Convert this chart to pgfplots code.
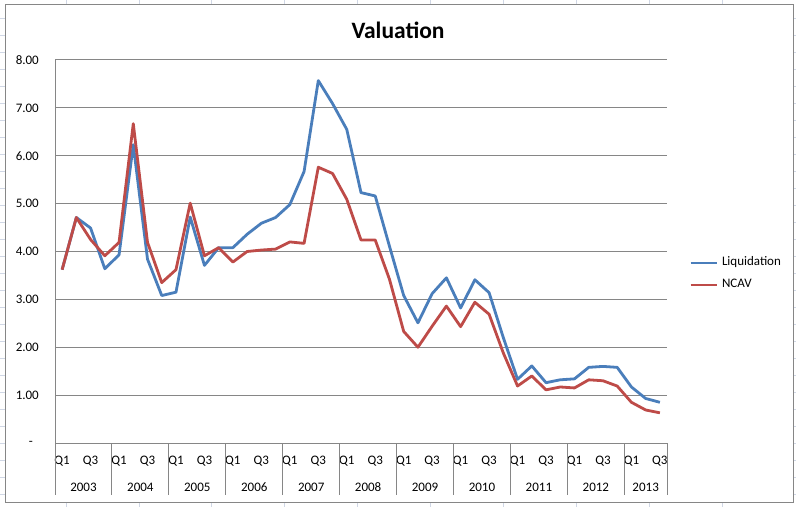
\documentclass[border=0pt]{standalone}
\usepackage{fontspec}
\setmainfont{Carlito}
\usepackage{pgfplots}
\pgfplotsset{compat=1.18}

\definecolor{liq}{HTML}{4A7EBB}
\definecolor{ncav}{HTML}{BE4B48}
\definecolor{gridgray}{HTML}{868686}
\definecolor{sheet}{HTML}{D0D7E5}

\pgfplotstableread{
x    liq   ncav
0.5  3.62  3.62
1.5  4.71  4.71
2.5  4.49  4.25
3.5  3.64  3.91
4.5  3.93  4.19
5.5  6.23  6.67
6.5  3.84  4.19
7.5  3.08  3.35
8.5  3.15  3.62
9.5  4.72  5.01
10.5 3.71  3.91
11.5 4.08  4.08
12.5 4.08  3.78
13.5 4.36  4.00
14.5 4.59  4.03
15.5 4.71  4.05
16.5 4.98  4.20
17.5 5.67  4.17
18.5 7.57  5.76
19.5 7.09  5.63
20.5 6.55  5.09
21.5 5.23  4.24
22.5 5.16  4.24
23.5 4.11  3.42
24.5 3.08  2.33
25.5 2.51  2.00
26.5 3.12  2.44
27.5 3.45  2.86
28.5 2.82  2.43
29.5 3.41  2.94
30.5 3.14  2.69
31.5 2.20  1.88
32.5 1.33  1.19
33.5 1.61  1.40
34.5 1.26  1.11
35.5 1.32  1.17
36.5 1.34  1.15
37.5 1.58  1.32
38.5 1.60  1.30
39.5 1.58  1.19
40.5 1.17  0.85
41.5 0.93  0.69
42.5 0.85  0.63
}\valuation

\begin{document}
\begin{tikzpicture}
% page and sheet background
\path[use as bounding box] (0,0) rectangle (796bp,507bp);
\foreach \k in {0,...,28} {
  \draw[sheet, line width=0.8bp] (0bp,489bp-\k*17bp) -- (5.5bp,489bp-\k*17bp);
  \draw[sheet, line width=0.8bp] (793bp,489bp-\k*17bp) -- (796bp,489bp-\k*17bp);
}
\foreach \k in {0,...,9} {
  \draw[sheet, line width=0.8bp] (66bp+\k*72.9bp,502.5bp) -- (66bp+\k*72.9bp,507bp);
  \draw[sheet, line width=0.8bp] (66bp+\k*72.9bp,0bp) -- (66bp+\k*72.9bp,4.5bp);
}
\draw[gridgray, line width=1bp, fill=white] (5.5bp,4.5bp) rectangle (793bp,502.5bp);

\node[font=\fontsize{23.5bp}{28bp}\selectfont\bfseries] at (398bp,477bp) {Valuation};

\begin{axis}[
  at={(55bp,64bp)}, anchor=south west,
  scale only axis, width=612bp, height=383bp,
  xmin=0, xmax=43, ymin=0, ymax=8,
  clip=false,
  axis lines=left,
  axis line style={-, draw=gridgray, line width=1bp},
  ytick={0,1,2,3,4,5,6,7,8},
  yticklabels={{-\hspace*{6bp}},1.00,2.00,3.00,4.00,5.00,6.00,7.00,8.00},
  ymajorgrids,
  major grid style={draw=gridgray, line width=1bp},
  xtick={0.5,2.5,4.5,6.5,8.5,10.5,12.5,14.5,16.5,18.5,20.5,22.5,24.5,26.5,28.5,30.5,32.5,34.5,36.5,38.5,40.5,42.5},
  xticklabels={Q1,Q3,Q1,Q3,Q1,Q3,Q1,Q3,Q1,Q3,Q1,Q3,Q1,Q3,Q1,Q3,Q1,Q3,Q1,Q3,Q1,Q3},
  major tick length=0pt,
  tick label style={font=\fontsize{13bp}{15bp}\selectfont},
  yticklabel style={anchor=east, inner sep=0pt, xshift=-16bp},
  xticklabel style={anchor=center, inner sep=0pt, yshift=-18bp},
  extra x ticks={0,4,8,12,16,20,24,28,32,36,40,43},
  extra x tick labels={},
  extra x tick style={major tick length=52bp, tick align=outside,
    tick style={draw=gridgray, line width=1bp}},
  legend style={at={(1,0.5)}, anchor=west, xshift=22bp, yshift=-22.5bp,
    draw=none, fill=none, inner sep=0pt, row sep=10bp, column sep=4bp,
    nodes={inner sep=0pt, text height=9bp, text depth=3bp},
    font=\fontsize{13bp}{15bp}\selectfont, cells={anchor=west}},
  legend image code/.code={\draw[#1] (0bp,0bp) -- (26bp,0bp);},
]
\addplot[liq, line width=2.8bp, line join=round] table[x=x, y=liq] {\valuation};
\addplot[ncav, line width=2.8bp, line join=round] table[x=x, y=ncav] {\valuation};
\legend{Liquidation, NCAV}

\foreach \c/\y in {2/2003,6/2004,10/2005,14/2006,18/2007,22/2008,26/2009,30/2010,34/2011,38/2012,41.5/2013} {
  \edef\temp{\noexpand\node[font=\noexpand\fontsize{13bp}{15bp}\noexpand\selectfont, inner sep=0pt] at (axis cs:\c,0) [yshift=-44bp] {\y};}
  \temp
}
\end{axis}
\end{tikzpicture}
\end{document}
